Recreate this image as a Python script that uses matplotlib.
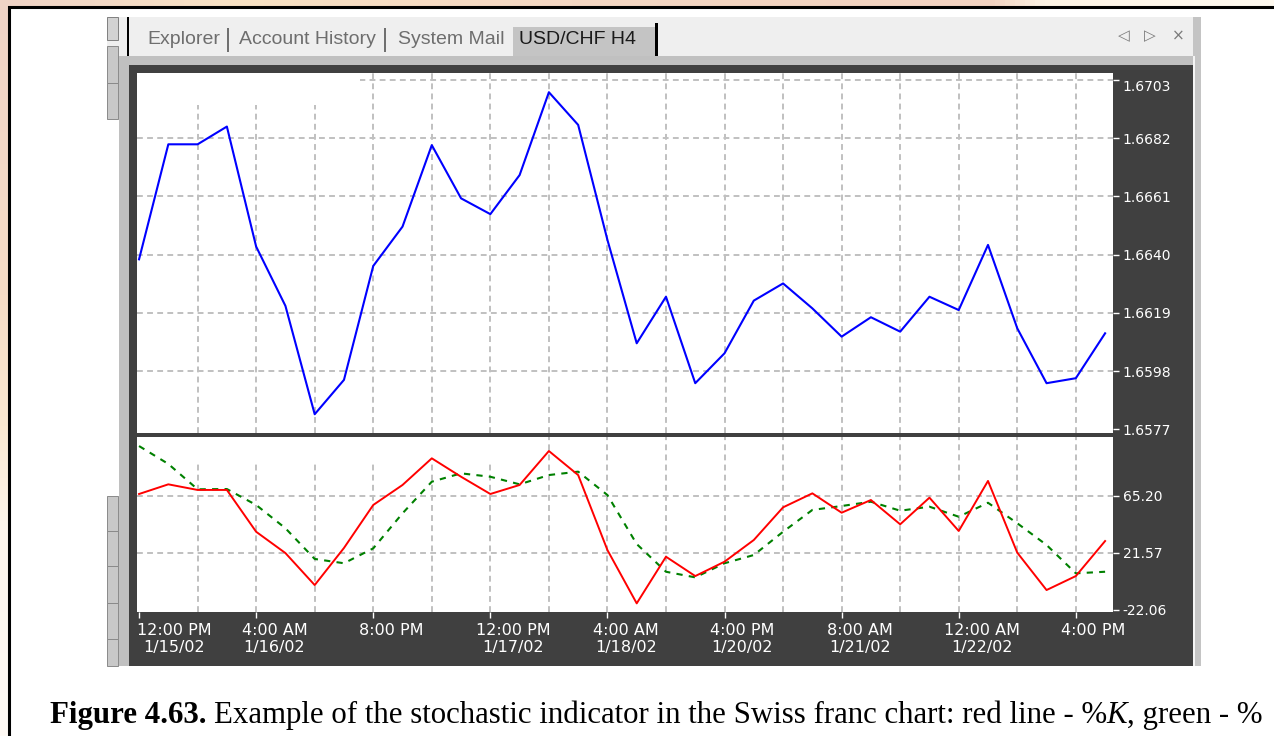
import matplotlib.pyplot as plt
from matplotlib.patches import Rectangle
from matplotlib.text import Annotation
from matplotlib.colors import LinearSegmentedColormap
import numpy as np

# USD/CHF H4 closes and stochastic (%K red, %D green)
price = [1.66383, 1.66798, 1.66798, 1.66862, 1.66429, 1.66215, 1.65824, 1.65948,
         1.66359, 1.66501, 1.66795, 1.66603, 1.66546, 1.66687, 1.66986, 1.66868,
         1.66453, 1.66080, 1.66248, 1.65936, 1.66044, 1.66234, 1.66296, 1.66206,
         1.66104, 1.66174, 1.66122, 1.66248, 1.66200, 1.66435, 1.66134, 1.65936,
         1.65954, 1.66116]
stoch_k = [66.5, 73.9, 69.6, 69.6, 37.6, 21.3, -3.2, 25.2, 58.1, 73.4, 93.8, 79.7,
           66.5, 73.4, 99.4, 81.0, 23.6, -17.2, 18.5, 3.7, 14.7, 31.3, 56.3, 67.0,
           52.2, 61.9, 43.3, 63.7, 38.2, 76.5, 21.6, -7.0, 3.7, 30.5]
stoch_d = [103.2, 89.5, 70.1, 70.3, 58.1, 40.3, 16.8, 13.5, 24.9, 51.7, 75.9, 82.3,
           79.7, 73.9, 81.0, 83.6, 65.7, 28.2, 7.0, 2.7, 13.5, 19.8, 37.6, 54.3,
           57.3, 60.6, 53.7, 56.8, 49.1, 59.8, 44.1, 27.5, 5.8, 7.0]

price_ticks = [1.6577, 1.6598, 1.6619, 1.6640, 1.6661, 1.6682, 1.6703]
price_labels = ['1.6577', '1.6598', '1.6619', '1.6640', '1.6661', '1.6682', '1.6703']
stoch_ticks = [-22.06, 21.57, 65.20]
stoch_labels = ['-22.06', '21.57', '65.20']
time_pos = [0, 4, 8, 12, 16, 20, 24, 28, 32]
time_labels = ['12:00 PM\n1/15/02', '4:00 AM\n1/16/02', '8:00 PM', '12:00 PM\n1/17/02',
               '4:00 AM\n1/18/02', '4:00 PM\n1/20/02', '8:00 AM\n1/21/02',
               '12:00 AM\n1/22/02', '4:00 PM']
tabs = ['Explorer', 'Account History', 'System Mail', 'USD/CHF H4']

W, H = 1274, 736
fig = plt.figure(figsize=(W / 100, H / 100), dpi=100)


def rect(x0, y0, x1, y1, z=-5, **kw):
    fig.patches.append(Rectangle((x0 / W, 1 - y1 / H), (x1 - x0) / W, (y1 - y0) / H,
                                 transform=fig.transFigure, figure=fig, zorder=z, **kw))


def ftext(x, y, s, **kw):
    return fig.text(x / W, 1 - y / H, s, **kw)


# peach page background at the top and left edges
bg = fig.add_axes([0, 0, 1, 1], zorder=-10)
bg.axis('off')
top_cmap = LinearSegmentedColormap.from_list('top', [(0, '#efd3c6'), (0.18, '#f9e2c4'),
                                                     (0.45, '#f4d7c3'), (0.78, '#f2d2c0'),
                                                     (0.82, '#fdf3e4'), (1, '#fef9ef')])
left_cmap = LinearSegmentedColormap.from_list('left', [(0, '#efd3c6'), (0.4, '#f6dcc6'),
                                                       (0.58, '#fbe9d2'), (0.72, '#fdf5ec'),
                                                       (1, '#fffaf5')])
bg.imshow(np.linspace(0, 1, 256)[None, :], cmap=top_cmap, aspect='auto',
          extent=[0, W, H - 10, H])
bg.imshow(np.linspace(0, 1, 256)[:, None], cmap=left_cmap, aspect='auto',
          extent=[0, 12, 0, H], origin='upper')
bg.set_xlim(0, W)
bg.set_ylim(0, H)

# white page with black border
rect(9, 7, 1290, 750, facecolor='white', edgecolor='black', linewidth=2.2, z=-8)

# terminal window chrome
rect(107, 17, 1201, 56, facecolor='#efefef')
rect(513, 27, 655, 56, facecolor='#c4c4c4')
rect(126.5, 17, 129, 56, facecolor='black')
rect(655, 23, 657.5, 56, facecolor='black')
for sx in [228, 385]:
    rect(sx - 0.7, 28, sx + 0.7, 52, facecolor='#707070')
rect(107, 17, 118, 40, facecolor='#d2d2d2', edgecolor='#808080', linewidth=0.7)
for y0, y1 in [(46, 83), (83, 119), (496, 531), (531, 566), (566, 603), (603, 639), (639, 666)]:
    rect(107, y0, 118, y1, facecolor='#c8c8c8', edgecolor='#8a8a8a', linewidth=0.7)
rect(119, 56, 1201, 65, facecolor='#c0c0c0')
rect(119, 56, 129, 666, facecolor='#c0c0c0')
rect(1193, 17, 1201, 666, facecolor='#c4c4c4')
rect(1193, 56, 1195, 666, facecolor='#f4f4f4')
rect(129, 65, 1193, 666, facecolor='#404040')

tab_x = [147, 239, 398, 519]
for tx, name in zip(tab_x, tabs):
    ftext(tx, 40, name, family='Liberation Sans', fontsize=14, va='center', ha='left',
          color='#1a1a1a' if name == tabs[-1] else '#6e6e6e')
for ix, ch in zip([1124, 1150, 1178], ['\u25c1', '\u25b7', '\u00d7']):
    ftext(ix, 36, ch, family='DejaVu Sans', fontsize=11, va='center', ha='center',
          color='#7a7a7a')

# chart panels
grid_kw = dict(color='#c0c0c0', linewidth=1.4, linestyle=(0, (3, 2.2)))
x = np.arange(len(price))
xlim = (-0.07, 33.27)

ax_up = fig.add_axes([137 / W, 1 - 433 / H, 976 / W, 360 / H])
ax_lo = fig.add_axes([137 / W, 1 - 612 / H, 976 / W, 175.5 / H])

for ax in (ax_up, ax_lo):
    ax.set_facecolor('white')
    for sp in ax.spines.values():
        sp.set_visible(False)
    ax.set_axisbelow(True)
    ax.set_xlim(*xlim)
    ax.yaxis.tick_right()
    ax.tick_params(axis='y', colors='white', length=4, width=1, pad=3, labelsize=10,
                   left=False, labelleft=False)

ax_up.plot(x, price, color='#0000ff', linewidth=1.5, zorder=2)
ax_up.set_ylim(1.657563, 1.670553)
ax_up.set_yticks(price_ticks)
ax_up.set_yticklabels(price_labels, family='DejaVu Sans')
ax_up.get_yticklabels()[-1].set_va('top')
ax_up.set_xticks(range(0, 34, 2))
ax_up.tick_params(axis='x', length=0, labelbottom=False)
ax_up.grid(True, **grid_kw)
ax_up.xaxis.get_gridlines()[0].set_visible(False)
ax_up.yaxis.get_gridlines()[0].set_visible(False)
ax_up.add_patch(Rectangle((0, 1 - 32 / 360), 223 / 976, 32 / 360, transform=ax_up.transAxes,
                          facecolor='white', edgecolor='none', zorder=1))

ax_lo.plot(x, stoch_k, color='#ff0000', linewidth=1.4, zorder=3)
ax_lo.plot(x, stoch_d, color='#008000', linewidth=1.5, linestyle=(0, (3, 3)), zorder=2)
ax_lo.set_ylim(-23.8, 110.5)
ax_lo.set_yticks(stoch_ticks)
ax_lo.set_yticklabels(stoch_labels, family='DejaVu Sans')
ax_lo.set_xticks(time_pos)
ax_lo.set_xticks(range(2, 34, 4), minor=True)
ax_lo.tick_params(axis='x', which='major', colors='white', length=4, width=1,
                  labelbottom=False)
ax_lo.tick_params(axis='x', which='minor', length=0)
ax_lo.grid(True, which='both', **grid_kw)
ax_lo.xaxis.get_gridlines()[0].set_visible(False)
ax_lo.yaxis.get_gridlines()[0].set_visible(False)
ax_lo.add_patch(Rectangle((0, 1 - 26 / 175.5), 383 / 976, 26 / 175.5, transform=ax_lo.transAxes,
                          facecolor='white', edgecolor='none', zorder=1))

for i, (pos, lbl) in enumerate(zip(time_pos, time_labels)):
    ax_lo.annotate(lbl, xy=(pos, 0), xycoords=('data', 'axes fraction'),
                   xytext=(-2 if i == 0 else -14.5, -11), textcoords='offset pixels',
                   ha='left', va='top', multialignment='center', linespacing=1.15,
                   color='white', fontsize=11.5, family='DejaVu Sans', annotation_clip=False)

# caption (the reference crops it right after "green - %")
cap = [('Figure 4.63.', 'bold', 'normal', 0),
       ('Example of the stochastic indicator in the Swiss franc chart: red line - %', 'normal', 'normal', 7),
       ('K', 'normal', 'italic', 0),
       (', green - %', 'normal', 'normal', 0)]
prev = ftext(50, 723, cap[0][0], family='Liberation Serif', fontsize=22.2,
             fontweight='bold', va='baseline')
for s, wgt, sty, gap in cap[1:]:
    a = Annotation(s, xy=(1, 0), xycoords=prev, xytext=(gap, 0), textcoords='offset pixels',
                   va='bottom', ha='left', family='Liberation Serif', fontsize=22.2,
                   fontweight=wgt, fontstyle=sty)
    fig.add_artist(a)
    prev = a

fig.savefig('out.png', dpi=100)
